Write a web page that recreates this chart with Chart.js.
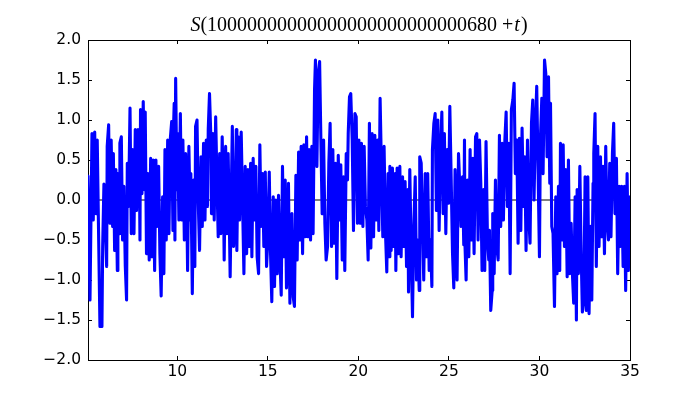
<!DOCTYPE html>
<html>
<head>
<meta charset="utf-8">
<script src="https://cdn.jsdelivr.net/npm/chart.js@4.4.1/dist/chart.umd.min.js"></script>
<style>
	body { margin: 0; background: #fff; }
	canvas { display: block; }
</style>
</head>
<body>
<canvas id="sChart" width="700" height="400"></canvas>
<script>
// S(T + t), as [t, S] pairs (peaks and troughs)
const samples = [
	[5.07, 0.3], [5.18, -1.25], [5.29, 0.83], [5.36, -0.25], [5.44, 0.85], [5.51, -0.17], [5.58, 0.75], [5.66, -0.5], [5.73, -1.58], [5.84, -1.58],
	[5.88, -0.58], [5.95, 0.2], [6.02, -0.25], [6.1, -0.83], [6.13, 0.67], [6.21, 0.94], [6.28, -0.29], [6.35, 0.75], [6.43, -0.33], [6.47, 0.58],
	[6.54, -0.63], [6.61, 0.38], [6.69, -0.88], [6.72, 0.33], [6.8, -0.42], [6.83, 0.71], [6.91, 0.79], [6.98, -0.5], [7.05, 0.17], [7.13, -0.83],
	[7.2, -1.25], [7.24, 0.46], [7.31, -0.08], [7.39, 1.15], [7.46, -0.42], [7.53, 0.63], [7.61, -0.42], [7.68, 0.88], [7.75, -0.13], [7.83, 0.88],
	[7.9, 0.54], [7.94, -0.5], [7.97, 1.13], [8.05, 0.08], [8.12, 1.23], [8.19, 0.13], [8.23, 1.1], [8.3, -0.67], [8.38, 0.33], [8.45, -0.75],
	[8.53, 0.52], [8.6, -0.71], [8.67, 0.5], [8.75, -0.88], [8.82, 0.5], [8.89, -0.33], [8.97, 0.42], [9.04, -0.67], [9.11, -1.2], [9.19, 0.04],
	[9.26, -0.92], [9.32, 0.63], [9.39, -0.5], [9.47, 0.75], [9.54, -0.42], [9.61, 0.75], [9.69, 0.98], [9.76, -0.38], [9.8, 0.96], [9.83, 1.21],
	[9.87, -0.5], [9.91, 1.52], [9.98, 0.13], [10.02, 0.83], [10.09, -0.25], [10.17, 1.08], [10.24, -0.25], [10.31, 0.75], [10.39, -0.5], [10.46, 0.58],
	[10.53, -0.17], [10.57, -0.88], [10.64, 0.67], [10.72, -0.25], [10.75, 0.33], [10.83, -1.17], [10.9, 0.25], [10.97, -0.83], [11.01, 0.92], [11.09, 1.0],
	[11.16, -0.04], [11.23, -0.63], [11.31, 0.54], [11.38, -0.33], [11.45, 0.71], [11.53, -0.25], [11.6, 0.75], [11.67, -0.08], [11.71, 0.88], [11.78, 1.33],
	[11.86, 0.75], [11.89, -0.17], [11.97, 0.83], [12.04, -0.25], [12.12, 1.04], [12.19, 0.25], [12.26, -0.46], [12.34, 0.58], [12.41, -0.42], [12.48, 0.79],
	[12.56, -0.08], [12.59, -0.75], [12.67, 0.67], [12.74, -0.42], [12.81, 0.58], [12.89, -0.5], [12.92, -0.96], [13.0, 0.33], [13.04, 0.92], [13.11, -0.58],
	[13.18, -0.25], [13.26, 0.88], [13.29, -0.63], [13.37, 0.79], [13.44, -0.25], [13.53, 0.85], [13.68, -0.92], [13.75, 0.42], [13.83, -0.67], [13.9, 0.38],
	[13.97, -0.58], [14.05, 0.46], [14.12, -0.71], [14.19, 0.52], [14.27, -0.25], [14.34, 0.42], [14.41, -0.71], [14.49, -0.92], [14.56, 0.69], [14.63, -0.33],
	[14.71, 0.33], [14.78, -0.58], [14.86, 0.35], [14.93, -0.83], [15.0, -0.5], [15.08, 0.35], [15.15, -0.67], [15.22, -1.27], [15.3, 0.04], [15.37, -1.08],
	[15.44, 0.0], [15.52, -0.92], [15.59, 0.06], [15.67, -0.75], [15.74, -1.19], [15.81, 0.42], [15.89, -0.71], [15.96, 0.25], [16.03, -1.1], [16.11, -0.58],
	[16.14, 0.21], [16.22, -1.29], [16.25, -0.75], [16.33, -0.17], [16.4, -1.21], [16.47, -1.33], [16.55, 0.31], [16.62, -0.75], [16.7, 0.6], [16.77, -0.5],
	[16.84, 0.67], [16.92, -0.67], [16.99, 0.69], [17.06, -0.46], [17.14, 0.79], [17.21, -0.46], [17.28, 0.63], [17.36, -0.5], [17.43, 0.67], [17.5, -0.42],
	[17.58, 1.38], [17.63, 1.75], [17.71, 0.42], [17.78, 1.58], [17.86, 1.73], [17.93, 0.75], [18.0, -0.17], [18.08, 0.75], [18.15, -0.29], [18.22, -0.75],
	[18.3, -0.58], [18.37, 0.46], [18.44, 0.96], [18.52, -0.58], [18.59, 0.63], [18.66, -0.54], [18.74, 0.46], [18.81, -0.98], [18.89, 0.56], [18.96, -0.25],
	[19.03, 0.44], [19.11, -0.75], [19.18, 0.29], [19.25, -0.88], [19.33, 0.58], [19.4, 0.25], [19.44, 0.83], [19.51, 1.29], [19.58, 1.33], [19.66, 0.75],
	[19.73, -0.38], [19.81, 1.08], [19.88, 1.04], [19.95, -0.29], [20.03, 0.75], [20.1, -0.29], [20.17, 0.71], [20.25, -0.33], [20.32, 0.67], [20.39, -0.08],
	[20.47, -0.25], [20.54, -0.75], [20.61, 0.96], [20.69, -0.6], [20.76, 0.83], [20.84, -0.46], [20.91, 0.81], [20.98, -0.25], [21.06, 0.75], [21.13, -0.38],
	[21.2, 1.27], [21.28, 0.33], [21.35, -0.46], [21.42, 0.67], [21.5, -0.42], [21.57, -0.9], [21.64, 0.33], [21.72, -0.71], [21.74, 0.42], [21.81, -0.63],
	[21.88, 0.4], [21.96, -0.58], [22.03, 0.33], [22.07, -0.88], [22.14, 0.4], [22.22, -0.67], [22.29, 0.42], [22.36, -0.71], [22.44, 0.29], [22.51, -0.58],
	[22.58, 0.23], [22.66, -0.83], [22.73, 0.13], [22.77, -1.15], [22.84, 0.38], [22.91, -0.58], [22.99, -1.46], [23.06, -0.33], [23.14, 0.29], [23.21, -1.0],
	[23.28, -0.5], [23.36, -1.13], [23.39, 0.54], [23.47, 0.46], [23.54, -0.33], [23.61, -1.0], [23.69, 0.33], [23.76, -0.71], [23.83, 0.33], [23.91, -0.88],
	[23.98, -0.5], [24.06, -1.08], [24.09, 0.63], [24.17, 0.96], [24.24, 1.08], [24.31, -0.13], [24.39, 1.0], [24.46, -0.38], [24.53, 0.54], [24.61, 1.1],
	[24.68, -0.17], [24.75, 0.83], [24.83, -0.42], [24.9, 0.63], [24.98, -0.04], [25.05, 1.17], [25.12, 0.33], [25.2, -0.67], [25.27, -1.1], [25.34, 0.38],
	[25.42, -0.5], [25.45, -1.0], [25.53, 0.58], [25.6, 0.17], [25.67, -0.33], [25.75, 0.29], [25.82, -0.56], [25.86, 0.75], [25.89, -0.58], [25.95, -1.0],
	[26.02, 0.25], [26.1, -0.71], [26.17, 0.63], [26.25, -0.5], [26.32, 0.52], [26.39, -0.67], [26.47, 0.79], [26.54, 0.83], [26.61, -0.5], [26.69, 0.75],
	[26.76, 0.21], [26.83, -0.88], [26.91, 0.13], [26.98, -0.88], [27.05, 0.73], [27.13, -0.5], [27.2, -0.75], [27.24, -0.38], [27.31, -1.38], [27.39, -1.13],
	[27.42, -0.17], [27.5, -0.92], [27.57, 0.25], [27.64, -0.58], [27.72, -0.75], [27.79, 0.81], [27.86, -0.33], [27.94, 0.71], [28.01, -0.25], [28.09, 0.75],
	[28.16, 1.1], [28.23, -0.08], [28.31, 0.71], [28.38, -0.92], [28.45, 1.13], [28.53, 1.25], [28.6, 1.46], [28.67, 0.33], [28.75, 0.75], [28.82, -0.54],
	[28.89, 0.77], [28.97, -0.38], [29.04, 0.9], [29.12, -0.08], [29.19, 0.54], [29.26, -0.63], [29.34, 0.75], [29.41, -0.21], [29.48, -0.54], [29.56, 0.96],
	[29.63, 1.25], [29.7, 0.0], [29.78, 0.96], [29.85, 1.42], [29.92, 0.42], [30.0, -0.71], [30.05, 0.75], [30.13, 1.27], [30.2, 0.33], [30.28, 1.75],
	[30.35, 1.58], [30.42, 0.54], [30.5, 1.54], [30.57, 0.21], [30.61, 1.21], [30.68, -0.33], [30.75, -0.42], [30.83, -1.33], [30.9, 0.04], [30.97, -0.92],
	[31.05, 0.17], [31.12, -0.88], [31.16, 0.71], [31.23, -0.5], [31.31, 0.69], [31.38, -0.58], [31.45, 0.38], [31.53, -0.96], [31.6, 0.5], [31.67, -0.92],
	[31.75, -0.29], [31.82, -0.92], [31.89, -1.29], [31.97, 0.04], [32.04, -1.5], [32.08, 0.13], [32.15, -0.92], [32.23, 0.42], [32.3, -0.63], [32.37, -1.4],
	[32.45, -1.25], [32.52, 0.29], [32.59, -1.38], [32.67, 0.29], [32.74, -1.42], [32.81, -0.33], [32.89, -1.25], [32.96, 0.21], [33.0, 0.58], [33.07, 1.08],
	[33.14, -0.83], [33.22, 0.67], [33.29, -0.58], [33.37, 0.54], [33.44, -0.46], [33.51, 0.42], [33.59, -0.67], [33.66, 0.67], [33.73, -0.25], [33.81, -0.5],
	[33.88, 0.46], [33.95, -0.46], [34.03, 0.58], [34.1, 0.96], [34.17, -0.17], [34.25, 0.52], [34.32, -0.92], [34.4, 0.17], [34.47, -0.58], [34.54, 0.17],
	[34.62, -0.83], [34.69, 0.17], [34.76, -1.13], [34.84, 0.33], [34.91, -0.88], [35.0, 0.04],
];

const xTicks = [10, 15, 20, 25, 30, 35];
const yTicks = [-2, -1.5, -1, -0.5, 0, 0.5, 1, 1.5, 2];
const xRange = [5.07, 35];
const yRange = [-2, 2];
const baseline = 0; // the black horizontal line
const titleNumber = '10000000000000000000000000680';

const tickFont = { family: 'DejaVu Sans', size: 15.5 };

// matplotlib style ticks: pointing inward, on all four sides
function axisStyle(extra) {
	return Object.assign({
		type: 'linear',
		grid: { drawOnChartArea: false, drawTicks: true, tickLength: -4, color: '#000', lineWidth: 1 },
		border: { display: true, color: '#000', width: 1 },
	}, extra);
}

const fixTicks = (list) => (scale) => {
	scale.ticks = list.map((v) => ({ value: v }));
};

const fmt = (v) => v.toFixed(1).replace('-', '\u2212');

// title is mathtext in the original: S and t in italic
const mathTitle = {
	id: 'mathTitle',
	afterDraw(chart) {
		const { ctx, chartArea } = chart;
		const parts = [
			['italic 20px "Liberation Serif"', 'S', 0],
			['20px "Liberation Serif"', '(' + titleNumber + ' +', 1],
			['italic 20px "Liberation Serif"', 't', 1],
			['20px "Liberation Serif"', ')', 0],
		];
		ctx.save();
		let total = 0;
		parts.forEach((p) => {
			ctx.font = p[0];
			total += ctx.measureText(p[1]).width + p[2];
		});
		let x = (chartArea.left + chartArea.right) / 2 - total / 2;
		ctx.fillStyle = '#000';
		ctx.textBaseline = 'alphabetic';
		ctx.textAlign = 'left';
		parts.forEach((p) => {
			ctx.font = p[0];
			ctx.fillText(p[1], x, 31);
			x += ctx.measureText(p[1]).width + p[2];
		});
		ctx.restore();
	},
};

const ctx = document.getElementById('sChart').getContext('2d');

new Chart(ctx, {
	type: 'line',
	data: {
		datasets: [
			{
				data: samples.map(([t, s]) => ({ x: t, y: s })),
				borderColor: '#0000ff',
				borderWidth: 3.1,
				borderJoinStyle: 'round',
				borderCapStyle: 'round',
				pointRadius: 0,
				tension: 0,
				fill: false,
				clip: 0,
			},
			{
				data: xRange.map((t) => ({ x: t, y: baseline })),
				borderColor: '#000',
				borderWidth: 1,
				pointRadius: 0,
				fill: false,
				clip: 0,
			},
		],
	},
	options: {
		responsive: false,
		animation: false,
		events: [],
		layout: { padding: { left: 0, right: 70, top: 40, bottom: 0 } },
		plugins: {
			legend: { display: false },
			tooltip: { enabled: false },
			title: { display: false },
		},
		scales: {
			x: axisStyle({
				position: 'bottom',
				min: xRange[0],
				max: xRange[1],
				afterBuildTicks: fixTicks(xTicks),
				afterFit: (s) => { s.height = 40; },
				ticks: { padding: 7, color: '#000', font: tickFont, maxRotation: 0, autoSkip: false },
			}),
			xTop: axisStyle({
				position: 'top',
				min: xRange[0],
				max: xRange[1],
				afterBuildTicks: fixTicks(xTicks),
				afterFit: (s) => { s.height = 0; },
				ticks: { display: false },
			}),
			y: axisStyle({
				position: 'left',
				min: yRange[0],
				max: yRange[1],
				afterBuildTicks: fixTicks(yTicks),
				afterFit: (s) => { s.width = 88; },
				ticks: { padding: 11, color: '#000', font: tickFont, autoSkip: false, callback: (v) => fmt(v) },
			}),
			yRight: axisStyle({
				position: 'right',
				min: yRange[0],
				max: yRange[1],
				afterBuildTicks: fixTicks(yTicks),
				afterFit: (s) => { s.width = 0; },
				ticks: { display: false },
			}),
		},
	},
	plugins: [mathTitle],
});
</script>
</body>
</html>
